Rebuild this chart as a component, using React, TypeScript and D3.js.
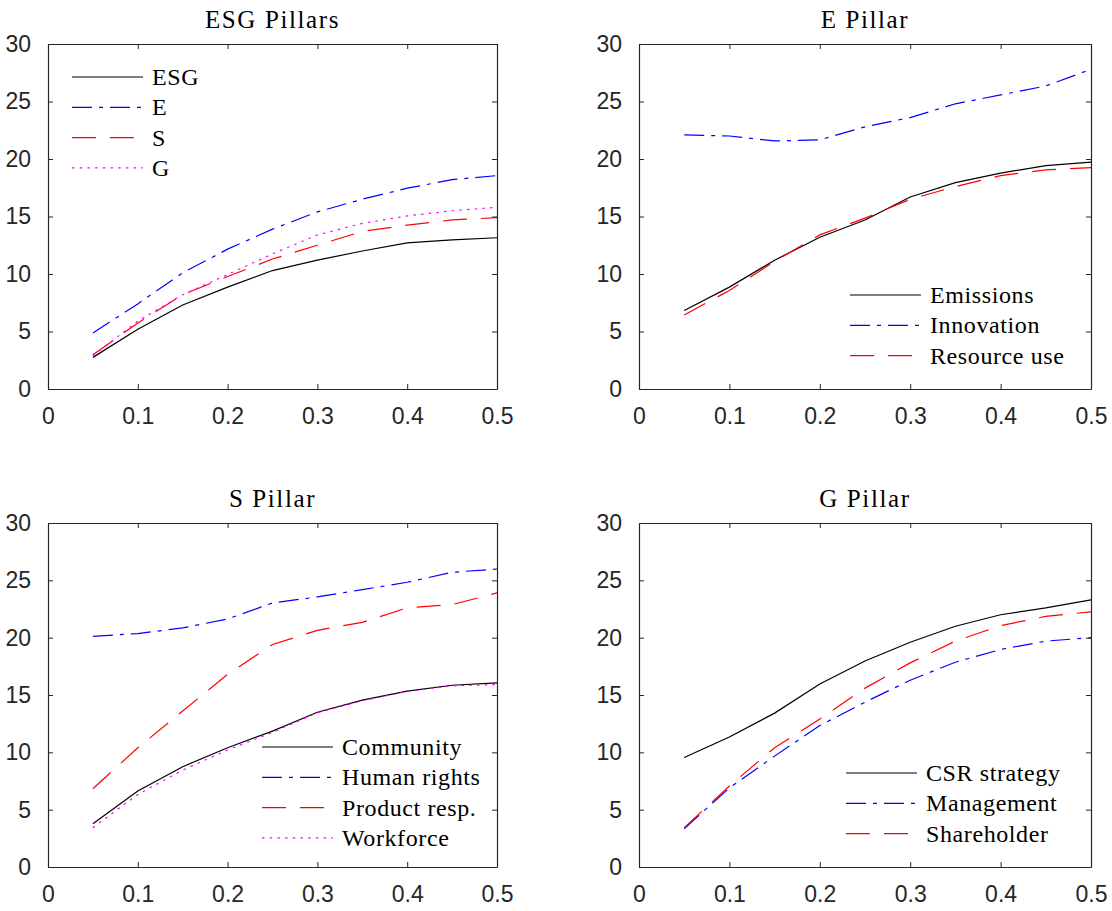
import React, { useEffect, useRef } from "react";
import * as d3 from "d3";

// x grid shared by every panel
const xValues = [0.05, 0.1, 0.15, 0.2, 0.25, 0.3, 0.35, 0.4, 0.45, 0.5];
const xTicks = [0, 0.1, 0.2, 0.3, 0.4, 0.5];
const yTicks = [0, 5, 10, 15, 20, 25, 30];

// ESG Pillars
const esg = [2.75, 5.2, 7.3, 8.86, 10.3, 11.2, 12.0, 12.7, 12.97, 13.15];
const ePillar = [4.87, 7.4, 10.1, 12.16, 13.9, 15.4, 16.5, 17.46, 18.2, 18.56];
const sPillar = [2.98, 5.73, 8.2, 9.78, 11.3, 12.5, 13.7, 14.25, 14.7, 14.9];
const gPillar = [2.9, 5.9, 8.2, 9.95, 11.75, 13.4, 14.4, 15.05, 15.5, 15.8];

// E Pillar
const emissions = [6.83, 8.86, 11.2, 13.2, 14.7, 16.7, 17.95, 18.77, 19.43, 19.72];
const innovation = [22.1, 22.0, 21.57, 21.66, 22.8, 23.6, 24.8, 25.57, 26.35, 27.8];
const resourceUse = [6.43, 8.57, 11.1, 13.4, 14.86, 16.5, 17.6, 18.56, 19.05, 19.25];

// S Pillar
const community = [3.78, 6.62, 8.75, 10.4, 11.85, 13.5, 14.55, 15.33, 15.85, 16.06];
const humanRights = [20.12, 20.36, 20.85, 21.63, 23.03, 23.55, 24.19, 24.83, 25.7, 25.99];
const productResp = [6.83, 10.4, 13.6, 16.8, 19.4, 20.64, 21.34, 22.6, 22.88, 23.9];
const workforce = [3.43, 6.33, 8.45, 10.2, 11.75, 13.45, 14.5, 15.3, 15.8, 15.91];

// G Pillar
const csrStrategy = [9.55, 11.33, 13.42, 15.96, 17.97, 19.6, 21.0, 22.0, 22.6, 23.3];
const management = [3.34, 6.9, 9.67, 12.34, 14.37, 16.29, 17.86, 18.97, 19.7, 20.0];
const shareholder = [3.43, 7.06, 10.4, 12.9, 15.6, 17.8, 19.7, 21.05, 21.86, 22.25];

const styles = {
	solid: { color: "#000000", dash: null },
	dashdot: { color: "#0000ff", dash: "20,7,4,7" },
	dashed: { color: "#ff0000", dash: "24,14" },
	dotted: { color: "#ff00ff", dash: "2.5,5.2" },
};

const panels = [
	{
		title: "ESG Pillars",
		box: { left: 48, right: 497, top: 44, bottom: 389 },
		legend: { x: 72, y: 77 },
		series: [
			{ name: "ESG", values: esg, style: styles.solid },
			{ name: "E", values: ePillar, style: styles.dashdot },
			{ name: "S", values: sPillar, style: styles.dashed },
			{ name: "G", values: gPillar, style: styles.dotted },
		],
	},
	{
		title: "E Pillar",
		box: { left: 639, right: 1091, top: 44, bottom: 389 },
		legend: { x: 850, y: 295 },
		series: [
			{ name: "Emissions", values: emissions, style: styles.solid },
			{ name: "Innovation", values: innovation, style: styles.dashdot },
			{ name: "Resource use", values: resourceUse, style: styles.dashed },
		],
	},
	{
		title: "S Pillar",
		box: { left: 48, right: 497, top: 523, bottom: 867 },
		legend: { x: 262, y: 747 },
		series: [
			{ name: "Community", values: community, style: styles.solid },
			{ name: "Human rights", values: humanRights, style: styles.dashdot },
			{ name: "Product resp.", values: productResp, style: styles.dashed },
			{ name: "Workforce", values: workforce, style: styles.dotted },
		],
	},
	{
		title: "G Pillar",
		box: { left: 639, right: 1091, top: 523, bottom: 867 },
		legend: { x: 846, y: 773 },
		series: [
			{ name: "CSR strategy", values: csrStrategy, style: styles.solid },
			{ name: "Management", values: management, style: styles.dashdot },
			{ name: "Shareholder", values: shareholder, style: styles.dashed },
		],
	},
];

const axisColor = "#262626";
const sansFont = "'Liberation Sans', Arial, sans-serif";
const serifFont = "'Liberation Serif', 'Times New Roman', serif";

const App = () => {
	const svgRef = useRef(null);

	useEffect(() => {
		const svg = d3.select(svgRef.current);
		svg.selectAll("*").remove();

		panels.forEach((p) => {
			const { left, right, top, bottom } = p.box;
			const x = d3.scaleLinear().domain([0, 0.5]).range([left, right]);
			const y = d3.scaleLinear().domain([0, 30]).range([bottom, top]);
			const g = svg.append("g");

			// data lines
			const line = d3
				.line()
				.x((d, i) => x(xValues[i]))
				.y((d) => y(d));

			p.series.forEach((s) => {
				g.append("path")
					.datum(s.values)
					.attr("d", line)
					.attr("fill", "none")
					.attr("stroke", s.style.color)
					.attr("stroke-width", 1.2)
					.attr("stroke-dasharray", s.style.dash);
			});

			// axes box with inward ticks on all sides
			const tickLen = 5;
			const axB = d3.axisBottom(x).tickValues(xTicks).tickSize(-tickLen).tickSizeOuter(0).tickPadding(19).tickFormat(d3.format(""));
			const axT = d3.axisTop(x).tickValues(xTicks).tickSize(-tickLen).tickSizeOuter(0).tickFormat(() => "");
			const axL = d3.axisLeft(y).tickValues(yTicks).tickSize(-tickLen).tickSizeOuter(0).tickPadding(17);
			const axR = d3.axisRight(y).tickValues(yTicks).tickSize(-tickLen).tickSizeOuter(0).tickFormat(() => "");

			const axes = [
				g.append("g").attr("transform", `translate(0,${bottom})`).call(axB),
				g.append("g").attr("transform", `translate(0,${top})`).call(axT),
				g.append("g").attr("transform", `translate(${left},0)`).call(axL),
				g.append("g").attr("transform", `translate(${right},0)`).call(axR),
			];
			axes.forEach((a) => {
				a.select(".domain").attr("stroke", axisColor).attr("stroke-width", 1.2);
				a.selectAll(".tick line").attr("stroke", axisColor).attr("stroke-width", 1);
				a.selectAll("text")
					.attr("fill", axisColor)
					.style("font-family", sansFont)
					.style("font-size", "23px");
			});

			// title (computer-modern look is wider, so spread the letters a bit)
			g.append("text")
				.attr("x", (left + right) / 2)
				.attr("y", top - 16)
				.attr("text-anchor", "middle")
				.style("font-family", serifFont)
				.style("font-size", "25px")
				.style("letter-spacing", "1.6px")
				.attr("fill", "#000")
				.text(p.title);

			// legend
			const leg = g.append("g").attr("transform", `translate(${p.legend.x},${p.legend.y})`);
			p.series.forEach((s, i) => {
				const row = leg.append("g").attr("transform", `translate(0,${i * 30.3})`);
				row.append("line")
					.attr("x1", 0)
					.attr("x2", 71)
					.attr("stroke", s.style.color)
					.attr("stroke-width", 1.2)
					.attr("stroke-dasharray", s.style.dash);
				row.append("text")
					.attr("x", 80)
					.attr("y", 8)
					.style("font-family", serifFont)
					.style("font-size", "24px")
					.style("letter-spacing", "0.6px")
					.attr("fill", "#000")
					.text(s.name);
			});
		});
	}, []);

	return (
		<svg
			ref={svgRef}
			width="1112"
			height="911"
			style={{ position: "absolute", left: 0, top: 0, background: "#fff" }}
		></svg>
	);
};

export default App;
